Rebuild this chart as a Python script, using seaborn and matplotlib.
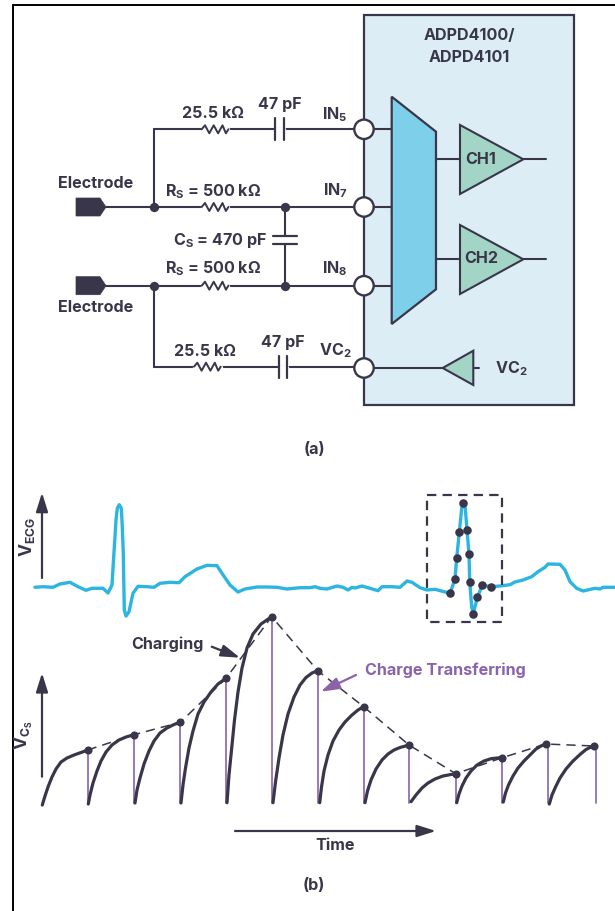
"""
Recreates the ADPD4100/ADPD4101 ECG front end figure:
(a) schematic, (b) ECG trace and sampled charge on Cs.
All values are in picture pixels, read off the reference.
"""

import matplotlib
matplotlib.use("Agg")
import matplotlib.pyplot as plt
from matplotlib.patches import Circle, Polygon, Rectangle
import seaborn as sns

DARK = "#3a3649"
CYAN = "#2bb5e0"
PURPLE = "#8a63ab"
BOX_FILL = "#dcedf5"
MUX_FILL = "#7dcfea"
AMP_FILL = "#a3d5c6"
FONT_SIZE = 11.6

# ECG trace
ecg_x = [35, 43, 53, 60, 70, 78, 86, 92, 103, 108, 112, 113.5, 115, 116, 117.3, 119.3, 121.3, 122.3, 123.3, 124.3, 126, 129, 133,
         138, 147, 154, 160, 170, 179, 185, 197, 207, 217, 222, 230, 238, 245, 257, 267, 277, 287, 300,
         310, 315, 320, 327, 337, 343, 348, 352, 355, 362, 370, 378, 382, 392, 400, 407, 412, 420, 427,
         435, 450, 455, 456.7, 459.3, 461.7, 463.3, 465.3, 467, 469, 469.7, 471.7, 473, 475, 477.3,
         482.3, 490.7, 500, 510, 515, 523, 531.7, 538, 545, 548, 560, 565, 570, 576.7, 583, 595, 600,
         603, 615]
ecg_y = [587.3, 586.7, 587.3, 584, 582.3, 586.7, 590.3, 588.3, 588.3, 593, 585, 560, 536.7, 520, 508.3, 504.7,
         508.3, 527, 553.3, 610, 616, 611.7, 593.3, 586.3, 586.7, 587.3, 583.3, 582.3, 582.7, 576.7, 569,
         565.3, 565.7, 573.3, 585, 592, 589, 587, 587, 587.3, 589, 587.7,
         587.7, 586.7, 588.3, 589, 586, 587.3, 590, 587.3, 588, 586, 588.3, 590.7, 586.7, 586.7, 587.3,
         581, 582.3, 587.7, 590, 589.3, 593.3, 579.3, 558, 532.3, 508.3, 503.3, 508.3, 530, 554, 581.7,
         606.7, 614, 606.7, 597.3, 585.3, 586.7, 586, 584.7, 582, 580, 576.7, 571.7, 567.3, 564, 564.3,
         570, 581.7, 588.3, 591, 588.3, 589, 587.3, 587.3]

# samples inside the dashed box
sample_x = [450, 455, 456.7, 459.3, 463.3, 467, 469, 469.7, 473, 477.3, 482.3, 490.7]
sample_y = [593.3, 579.3, 558, 532.3, 503.3, 530, 554, 581.7, 614, 597.3, 585.3, 586.7]

# charging curves on Cs, one list per sample period
charge_x = [
    [42.3, 45, 48, 52, 56, 61, 67, 74, 81, 87.7],
    [88.3, 90, 93, 97, 101, 106, 112, 119, 126, 134],
    [135, 137, 140, 144, 149, 154, 160, 167, 174, 180.3],
    [181, 183, 185.5, 189, 193, 198, 204, 211, 218, 226],
    [227, 229, 231.5, 234.5, 238, 242, 247, 253, 261, 271.7],
    [273, 275.5, 279, 283, 288, 294, 300, 306, 312, 317.7],
    [319.7, 321.5, 324, 328, 333, 339, 345, 352, 358, 363.7],
    [365, 367.5, 371, 376, 382, 388, 394, 400, 409],
    [411, 416, 422, 428, 435, 443, 450, 455.7],
    [456.7, 459, 462, 466, 471, 477, 484, 491, 497, 502.3],
    [503.3, 505.5, 508.5, 513, 518, 524, 530, 536, 541, 545.7],
    [549.3, 552, 555.5, 560, 566, 573, 580, 586, 590, 594.3],
]
charge_y = [
    [805, 796, 787, 777, 769, 762, 758, 755, 752.5, 750],
    [804, 795, 783, 771, 761, 752, 745, 740, 737, 734.7],
    [803, 790, 778, 764, 751, 741, 733, 728, 724.5, 722.3],
    [803, 785, 768, 748, 731, 714, 702, 692, 684, 678.3],
    [802.7, 775, 750, 720, 692, 668, 648, 634, 624, 616.7],
    [802.7, 782, 758, 735, 714, 697, 685, 677.5, 673, 670.7],
    [802.7, 787, 771, 755, 741, 730, 722, 715, 710, 706.7],
    [802.7, 791, 780, 769, 760, 754, 750, 747.5, 745],
    [801.7, 795, 788, 783, 779, 776, 774.7, 773.7],
    [802.7, 794, 786, 778, 771, 765, 761, 758.7, 758, 757.7],
    [802, 793, 785, 776, 768, 761, 755, 749, 746, 744],
    [804, 795, 787, 778, 769, 761, 754.5, 749.5, 747.5, 746],
]

# peaks: dashed envelope and sample dots
peak_x = [87.7, 134, 180.3, 226, 271.7, 317.7, 363.7, 409, 455.7, 502.3, 545.7, 594.3]
peak_y = [750, 734.7, 722.3, 678.3, 616.7, 670.7, 706.7, 745, 773.7, 757.7, 744, 746]

# purple discharge lines
transfer_x = [87.7, 134, 180.3, 226, 271.7, 317.7, 363.7, 409, 455.7, 501.7, 547.7, 596.3]
transfer_top = [750, 734.7, 722.3, 678.3, 616.7, 670.7, 706.7, 745, 773.7, 757.7, 744, 746]
transfer_bottom = 803.3

# schematic
rail_y = [129.3, 207, 285.7, 366.7]
pin_x = 364
pin_labels = [r"IN$_5$", r"IN$_7$", r"IN$_8$", r"VC$_2$"]
pin_label_x = [348, 348, 348, 352]
pin_label_y = [115, 191, 269, 351]
junction_x = [154, 154, 285, 285]
junction_y = [207, 285.7, 207, 285.7]
resistor_x = [201.7, 201.7, 201.7, 194]
resistor_y = [129.3, 207, 285.7, 366.7]
resistor_zig_dx = [0, 3.3, 7.6, 12, 16.4, 20.8, 24.2, 26.7]
resistor_zig_dy = [0, -4, 4, -4, 4, -4, 4, 0]

labels = [
    ("25.5 kΩ", 213, 113.5), ("47 pF", 280, 105),
    (r"R$_\mathrm{S}$ = 500 kΩ", 213, 191.5), (r"C$_\mathrm{S}$ = 470 pF", 220, 241),
    (r"R$_\mathrm{S}$ = 500 kΩ", 213, 269), ("25.5 kΩ", 205, 351), ("47 pF", 283, 342),
    ("Electrode", 96, 183), ("Electrode", 96, 308),
    ("ADPD4100/", 469, 36), ("ADPD4101", 469, 58),
    ("CH1", 481, 159), ("CH2", 481, 258.5), (r"VC$_2$", 511.5, 369),
    ("(a)", 314, 449), ("(b)", 314, 886), ("Time", 335, 846), ("Charging", 167, 644),
]


def wire(ax, xs, ys, color=DARK, lw=1.5, **kw):
    sns.lineplot(x=xs, y=ys, ax=ax, color=color, linewidth=lw, sort=False, estimator=None,
                 legend=False, **kw)


def arrow(ax, start, end, color=DARK, lw=1.6):
    ax.annotate("", xy=end, xytext=start,
                arrowprops=dict(arrowstyle="-|>,head_length=0.95,head_width=0.3",
                                color=color, lw=lw, shrinkA=0, shrinkB=0, mutation_scale=12))


def amp(ax, base_x, top, bottom, tip_x, tip_y):
    ax.add_patch(Polygon([(base_x, top), (tip_x, tip_y), (base_x, bottom)], closed=True,
                         facecolor=AMP_FILL, edgecolor=DARK, linewidth=1.5, zorder=3))


def main():
    sns.set_theme(style="white")
    plt.rcParams["font.family"] = ["Inter", "DejaVu Sans"]
    plt.rcParams["font.weight"] = "bold"
    plt.rcParams["mathtext.fontset"] = "custom"
    plt.rcParams["mathtext.rm"] = "Inter:bold"
    plt.rcParams["mathtext.default"] = "rm"

    fig = plt.figure(figsize=(6.15, 9.11), dpi=100)
    ax = fig.add_axes([0, 0, 1, 1])
    ax.set_xlim(0, 615)
    ax.set_ylim(911, 0)
    ax.axis("off")

    # page frame
    wire(ax, [12.5, 12.5], [911, 4.5], color="black", lw=1.4)
    wire(ax, [12.5, 615], [4.5, 4.5], color="black", lw=1.4)

    # chip box and multiplexer
    ax.add_patch(Rectangle((364, 15), 210, 390, facecolor=BOX_FILL, edgecolor=DARK, linewidth=1.6, zorder=1))
    ax.add_patch(Polygon([(391.7, 96.7), (436, 131.7), (436, 289.3), (391.7, 324)], closed=True,
                         facecolor=MUX_FILL, edgecolor=DARK, linewidth=1.6, zorder=3))

    # wires
    for y in rail_y[:3]:
        wire(ax, [pin_x, 391.7], [y, y])
    wire(ax, [154, 364], [129.3, 129.3])
    wire(ax, [106, 364], [207, 207])
    wire(ax, [106, 364], [285.7, 285.7])
    wire(ax, [154, 364], [366.7, 366.7])
    wire(ax, [154, 154], [129.3, 207])
    wire(ax, [154, 154], [285.7, 366.7])
    wire(ax, [364, 442.7], [368, 368])
    wire(ax, [473.3, 479.3], [368, 368])
    wire(ax, [285, 285], [207, 235.7])
    wire(ax, [285, 285], [243.7, 285.7])
    for y in [159.3, 259.3]:
        wire(ax, [436, 460], [y, y])
        wire(ax, [523, 546], [y, y])

    # resistors: white gap under the zigzag
    for rx, ry in zip(resistor_x, resistor_y):
        wire(ax, [rx, rx + 26.7], [ry, ry], color="white", lw=2.4)
        wire(ax, [rx + d for d in resistor_zig_dx], [ry + d for d in resistor_zig_dy], lw=1.4)

    # capacitors
    for cx1, cx2, cy in [(275, 283.7, 129.3), (279, 287, 366.7)]:
        wire(ax, [cx1, cx2], [cy, cy], color="white", lw=2.4)
        wire(ax, [cx1, cx1], [cy - 11, cy + 11], lw=1.6)
        wire(ax, [cx2, cx2], [cy - 11, cy + 11], lw=1.6)
    wire(ax, [272.7, 296.7], [235.7, 235.7], lw=1.6)
    wire(ax, [272.7, 296.7], [243.7, 243.7], lw=1.6)

    # electrodes
    for ey in [207, 285.7]:
        ax.add_patch(Polygon([(76, ey - 9), (100, ey - 9), (106, ey), (100, ey + 9), (76, ey + 9)],
                             closed=True, facecolor=DARK, edgecolor=DARK, linewidth=0.5, zorder=3))
    ax.scatter(junction_x, junction_y, s=45, color=DARK, zorder=4, linewidths=0)

    # input pins
    for y in rail_y[:3] + [368]:
        ax.add_patch(Circle((pin_x, y), 9.7, facecolor="white", edgecolor=DARK, linewidth=1.7, zorder=5))

    # amplifiers
    amp(ax, 460, 125, 194, 523.3, 159.3)
    amp(ax, 460, 225, 294, 523.3, 259.3)
    amp(ax, 473.3, 350.7, 385, 442.7, 368)

    # text
    for text, x, y in labels:
        ax.text(x, y, text, fontsize=FONT_SIZE, color=DARK, ha="center", va="center", zorder=6)
    for text, x, y in zip(pin_labels, pin_label_x, pin_label_y):
        ax.text(x, y, text, fontsize=FONT_SIZE, color=DARK, ha="right", va="center", zorder=6)
    ax.text(445, 670.5, "Charge Transferring", fontsize=FONT_SIZE, color=PURPLE, ha="center", va="center")
    ax.text(27, 537, r"V$_\mathrm{ECG}$", fontsize=FONT_SIZE + 1, color=DARK, rotation=90, ha="center", va="center")
    ax.text(24, 735, r"V$_\mathrm{C_S}$", fontsize=FONT_SIZE + 1, color=DARK, rotation=90, ha="center", va="center")

    # ECG and samples
    wire(ax, ecg_x, ecg_y, color=CYAN, lw=2.4)
    ax.scatter(sample_x, sample_y, s=38, color=DARK, zorder=5, linewidths=0)
    ax.add_patch(Rectangle((426.7, 494.7), 75, 127.6, fill=False, edgecolor=DARK, linewidth=1.6,
                           linestyle=(0, (4.2, 2.8)), zorder=4))

    # Cs voltage
    for x, top in zip(transfer_x, transfer_top):
        wire(ax, [x, x], [top, transfer_bottom], color=PURPLE, lw=1.2)
    wire(ax, peak_x, peak_y, lw=1.1, linestyle=(0, (6, 4)))
    for xs, ys in zip(charge_x, charge_y):
        wire(ax, xs, ys, lw=2.3)
    ax.scatter(peak_x, peak_y, s=34, color=DARK, zorder=5, linewidths=0)

    # arrows
    arrow(ax, (42, 578), (42, 492.7))
    arrow(ax, (42, 776.7), (42, 673))
    arrow(ax, (235, 831), (436, 831))
    arrow(ax, (211.7, 646.7), (240, 657.7))
    arrow(ax, (356, 675), (320.7, 691.7), color=PURPLE)

    fig.savefig("out.png", dpi=100, facecolor="white")
    plt.close(fig)


if __name__ == "__main__":
    main()
